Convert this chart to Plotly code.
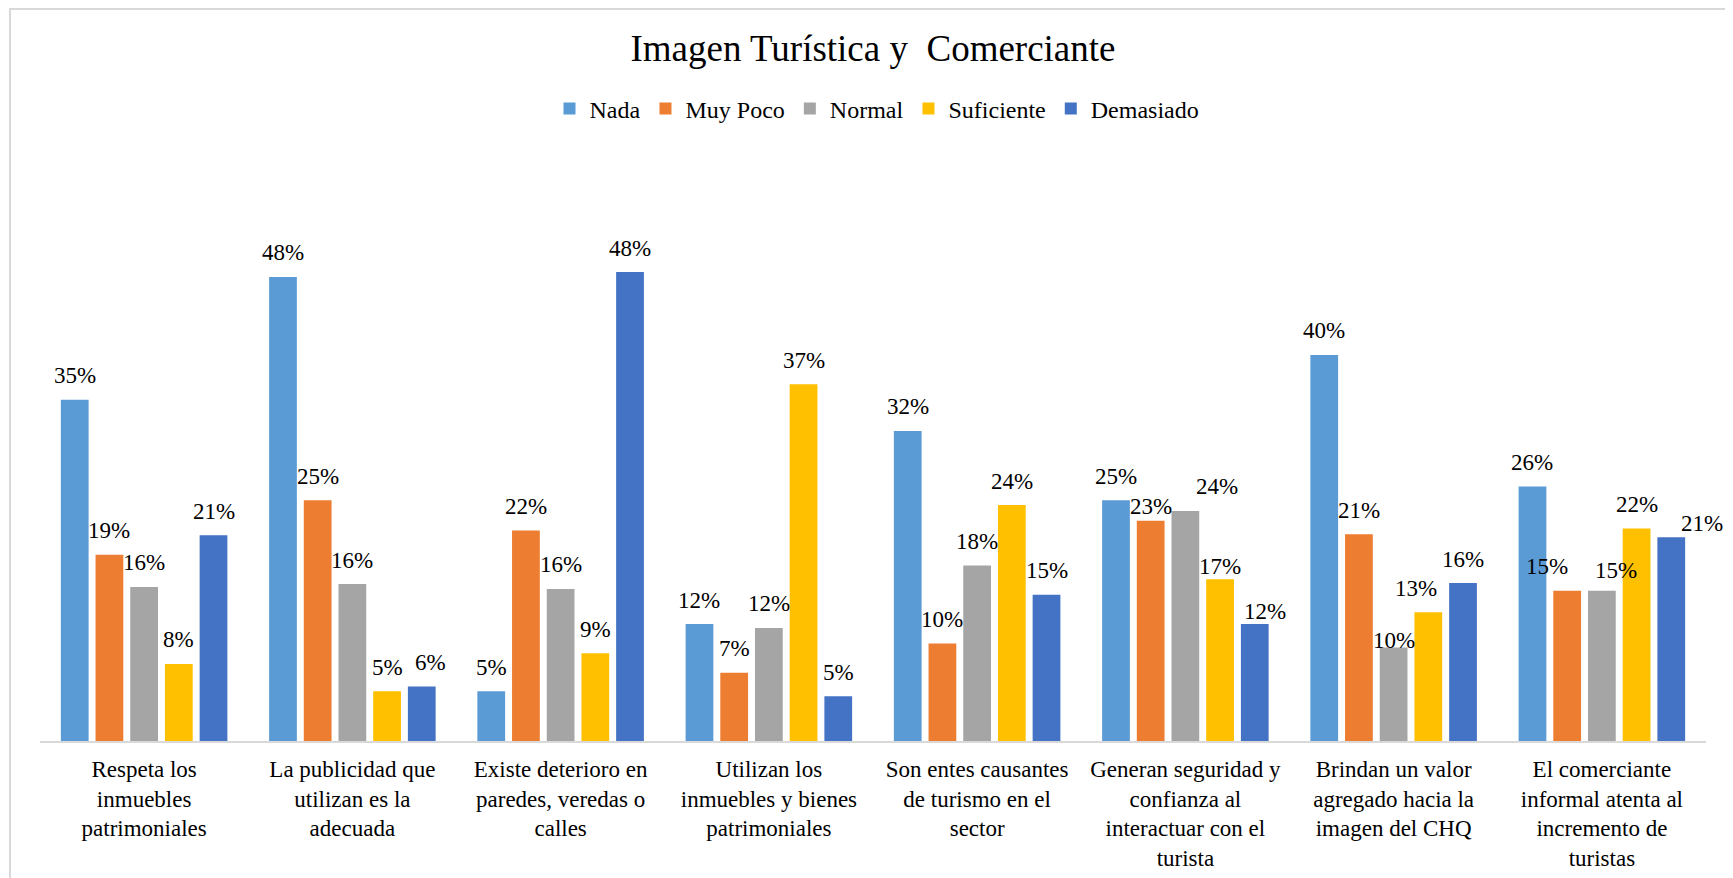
import plotly.graph_objects as go

# categories (x axis) and series values in percent
categorias = [
    "Respeta los<br>inmuebles<br>patrimoniales",
    "La publicidad que<br>utilizan es la<br>adecuada",
    "Existe deterioro en<br>paredes, veredas o<br>calles",
    "Utilizan los<br>inmuebles y bienes<br>patrimoniales",
    "Son entes causantes<br>de turismo en el<br>sector",
    "Generan seguridad y<br>confianza al<br>interactuar con el<br>turista",
    "Brindan un valor<br>agregado hacia la<br>imagen del CHQ",
    "El comerciante<br>informal atenta al<br>incremento de<br>turistas",
]

nada = [35.0, 47.6, 5.1, 12.0, 31.8, 24.7, 39.6, 26.1]
muy_poco = [19.1, 24.7, 21.6, 7.0, 10.0, 22.6, 21.2, 15.4]
normal = [15.8, 16.1, 15.6, 11.6, 18.0, 23.6, 9.6, 15.4]
suficiente = [7.9, 5.1, 9.0, 36.6, 24.2, 16.6, 13.2, 21.8]
demasiado = [21.1, 5.6, 48.1, 4.6, 15.0, 12.0, 16.2, 20.9]

series = [
    ("Nada", nada, "#5B9BD5"),
    ("Muy Poco", muy_poco, "#ED7D31"),
    ("Normal", normal, "#A5A5A5"),
    ("Suficiente", suficiente, "#FFC000"),
    ("Demasiado", demasiado, "#4472C4"),
]

# data labels that were dragged off their default spot in the original
# (series index, category index) -> (dx, dy) in pixels, dy positive = down
ajustes = {
    (4, 1): (9, 0),
    (1, 5): (0, 10),
    (2, 5): (32, 0),
    (3, 5): (0, 11),
    (4, 5): (10, 11),
    (2, 6): (0, 17),
    (3, 6): (-12, 0),
    (1, 7): (-20, 0),
    (2, 7): (14, 4),
    (4, 7): (31, 10),
}

FONT = "Liberation Serif"

# the page body adds an 8px margin, so the figure is drawn 8px smaller
# and every pixel position below is in figure coordinates
W, H = 1725, 870
left, right = 32, 1698
base, top = 733, 142
BARGAP, GROUPGAP = 0.167, 0.2
slot = (right - left) / len(categorias) * (1 - BARGAP) / len(series)
xp = lambda px: (px - left) / (right - left)
yp = lambda py: (base - py) / (base - top)

fig = go.Figure()
etiquetas = []
for i, (nombre, valores, color) in enumerate(series):
    fig.add_trace(go.Bar(
        x=categorias,
        y=valores,
        name=nombre,
        marker=dict(color=color, line=dict(width=0)),
    ))
    for j, v in enumerate(valores):
        dx, dy = ajustes.get((i, j), (0, 0))
        etiquetas.append(dict(
            x=categorias[j], y=v, xref="x", yref="y",
            text=f"{v:.0f}%", showarrow=False,
            xanchor="center", yanchor="middle",
            xshift=(i - (len(series) - 1) / 2) * slot + dx,
            yshift=24 - dy,
            font=dict(family=FONT, size=23, color="#000000"),
        ))

fig.update_layout(
    width=W, height=H,
    margin=dict(l=left, r=W - right, t=top, b=H - base, autoexpand=False),
    paper_bgcolor="white",
    plot_bgcolor="white",
    barmode="group",
    bargap=BARGAP,
    bargroupgap=GROUPGAP,
    font=dict(family=FONT, size=23, color="#000000"),
    title=dict(
        text="Imagen Turística y  Comerciante",
        font=dict(family=FONT, size=37, color="#000000"),
        xref="container", x=865 / W, xanchor="center",
        yref="container", y=1 - 40 / H, yanchor="middle",
    ),
    legend=dict(
        orientation="h",
        xref="container", x=869 / W, xanchor="center",
        yref="container", y=1 - 101 / H, yanchor="middle",
        font=dict(family=FONT, size=24, color="#000000"),
        itemwidth=30,
        traceorder="normal",
    ),
    xaxis=dict(
        range=[-0.5, len(categorias) - 0.5],
        autorange=False,
        showline=True, linecolor="#D9D9D9", linewidth=2,
        ticks="", tickfont=dict(family=FONT, size=23, color="#000000"),
        ticklabelstandoff=6,
    ),
    yaxis=dict(
        range=[0, (base - top) / 9.75],
        visible=False,
        showgrid=False,
    ),
    annotations=etiquetas,
    shapes=[dict(
        type="rect", xref="paper", yref="paper",
        x0=xp(2), x1=xp(1760), y0=yp(900), y1=yp(1),
        line=dict(color="#D9D9D9", width=2),
        fillcolor="rgba(0,0,0,0)", layer="below",
    )],
)

fig.write_html("out.html")
